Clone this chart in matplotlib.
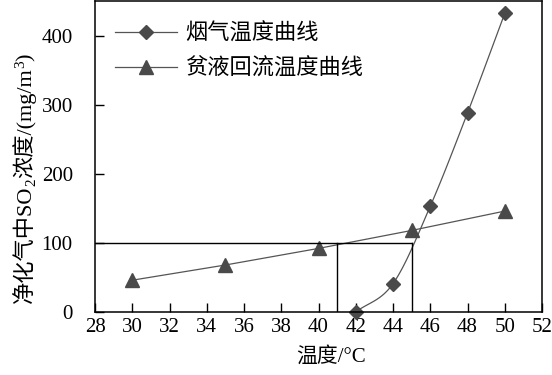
import numpy as np
import matplotlib
matplotlib.use('Agg')
import matplotlib.pyplot as plt

plt.rcParams['font.family'] = ['Liberation Serif', 'Noto Sans CJK SC']

# data
flue_temp = [42, 44, 46, 48, 50]
flue_so2 = [0, 41, 153, 288, 432]
lean_temp = [30, 35, 40, 45, 50]
lean_so2 = [46, 68, 92, 118, 146]
labels = ['烟气温度曲线', '贫液回流温度曲线']
limit_so2 = 100
limit_temps = [41, 45]

LINE = '#555555'
MARK = '#4a4a4a'
W, H = 552, 375


def smooth(x, y, n=30):
    # Catmull-Rom through the given points, only for drawing the curve
    x = np.asarray(x, float)
    y = np.asarray(y, float)
    px = np.concatenate([[2 * x[0] - x[1]], x, [2 * x[-1] - x[-2]]])
    py = np.concatenate([[2 * y[0] - y[1]], y, [2 * y[-1] - y[-2]]])
    xs, ys = [], []
    t = np.linspace(0, 1, n)
    for i in range(1, len(px) - 2):
        for p, out in ((px, xs), (py, ys)):
            p0, p1, p2, p3 = p[i - 1], p[i], p[i + 1], p[i + 2]
            out.extend(0.5 * (2 * p1 + (-p0 + p2) * t
                              + (2 * p0 - 5 * p1 + 4 * p2 - p3) * t ** 2
                              + (-p0 + 3 * p1 - 3 * p2 + p3) * t ** 3))
    return np.array(xs), np.array(ys)


fig = plt.figure(figsize=(W / 100, H / 100), dpi=100)
ax = fig.add_axes([95 / W, 63 / H, 447 / W, 311 / H])

sx, sy = smooth(flue_temp, flue_so2)
ax.plot(sx, sy, color=LINE, lw=0.9)
ax.plot(flue_temp, flue_so2, ls='none', marker='D', ms=7, color=MARK, clip_on=False)
ax.plot(lean_temp, lean_so2, color=LINE, lw=0.9, marker='^', ms=9.5,
        mfc=MARK, mec=MARK, clip_on=False)

# reference box lines
ax.plot([28, limit_temps[1]], [limit_so2, limit_so2], color='black', lw=1.0)
for t in limit_temps:
    ax.plot([t, t], [0, limit_so2], color='black', lw=1.0)

# legend handles
h1, = ax.plot([], [], color=LINE, lw=0.9, marker='D', ms=7, mfc=MARK, mec=MARK)
h2, = ax.plot([], [], color=LINE, lw=0.9, marker='^', ms=9.5, mfc=MARK, mec=MARK)
ax.legend([h1, h2], labels, loc='upper left', frameon=False, fontsize=16,
          handlelength=2.8, handletextpad=0.36, labelspacing=0.58,
          bbox_to_anchor=(20 / 447, 1 - 23 / 311), borderaxespad=0.0,
          borderpad=0.0)

ax.set_xlim(28, 52)
ax.set_ylim(0, 450)
ax.set_xticks(np.arange(28, 53, 2))
ax.set_yticks([0, 100, 200, 300, 400])
ax.tick_params(direction='in', length=6.5, width=1.0, labelsize=15,
               top=False, right=False)
ax.tick_params(axis='x', pad=4)
ax.tick_params(axis='y', pad=16)
for s in ax.spines.values():
    s.set_linewidth(1.1)

ax.set_xlabel('温度/°C', fontsize=15)
ax.xaxis.set_label_coords(0.528, -0.113)

# y label built from pieces so that CJK and sub/superscripts both work
pieces = [('净化气中SO', 16, 0), ('2', 11, 4), ('浓度/(mg/m', 16, 0),
          ('3', 11, -7), (')', 16, 0)]
fig.canvas.draw()
renderer = fig.canvas.get_renderer()
texts = []
for s, size, dx in pieces:
    t = fig.text(0, 0, s, fontsize=size, rotation=90, rotation_mode='anchor',
                 ha='left', va='baseline')
    texts.append((t, dx))
lengths = [t.get_window_extent(renderer).height for t, _ in texts]
total = sum(lengths)
ypix = 197 - total / 2  # centre of label, in pixels from bottom
xbase = 31
for (t, dx), ln in zip(texts, lengths):
    t.set_position(((xbase + dx) / W, ypix / H))
    ypix += ln

fig.savefig('out.png', dpi=100)
